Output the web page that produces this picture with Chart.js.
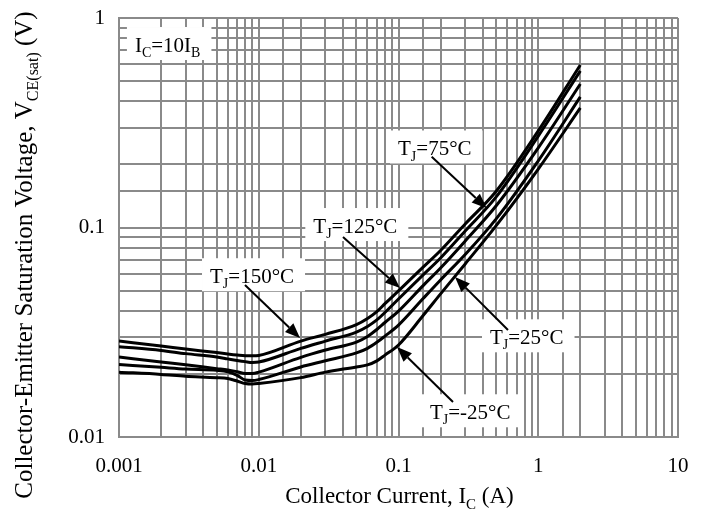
<!DOCTYPE html>
<html>
<head>
<meta charset="utf-8">
<script src="https://cdn.jsdelivr.net/npm/chart.js@4.4.0/dist/chart.umd.min.js"></script>
<style>
html, body { margin: 0; padding: 0; background: #fff; }
#wrap { width: 704px; height: 511px; }
</style>
</head>
<body>
<div id="wrap"><canvas id="vceChart" width="704" height="511"></canvas></div>
<script>
// Collector current sample points (A), shared by all curves
const currentA = [0.001, 0.002, 0.003, 0.005, 0.006, 0.007, 0.008, 0.009, 0.01, 0.02, 0.03, 0.05, 0.06, 0.07, 0.08, 0.1, 0.15, 0.2, 0.3, 0.5, 1, 2];

// VCE(sat) in volts
const vce150 = [0.0287, 0.0272, 0.0263, 0.0253, 0.0249, 0.0246, 0.0244, 0.0244, 0.0245, 0.0287, 0.0309, 0.0344, 0.0368, 0.0397, 0.0433, 0.0498, 0.0647, 0.0777, 0.104, 0.149, 0.289, 0.597];
const vce125 = [0.0270, 0.0259, 0.0250, 0.0241, 0.0236, 0.0232, 0.0229, 0.0227, 0.0228, 0.0265, 0.0287, 0.0317, 0.0337, 0.0362, 0.0393, 0.0456, 0.0594, 0.0715, 0.0962, 0.140, 0.273, 0.559];
const vce75  = [0.0241, 0.0228, 0.0221, 0.0212, 0.0209, 0.0205, 0.0201, 0.0201, 0.0204, 0.0240, 0.0260, 0.0284, 0.0302, 0.0326, 0.0352, 0.0399, 0.0528, 0.0641, 0.0862, 0.127, 0.240, 0.484];
const vce25  = [0.0222, 0.0215, 0.0211, 0.0208, 0.0205, 0.0197, 0.0187, 0.0186, 0.0188, 0.0216, 0.0231, 0.0252, 0.0265, 0.0283, 0.0303, 0.0342, 0.0458, 0.0562, 0.0743, 0.110, 0.208, 0.420];
const vceM25 = [0.0204, 0.0199, 0.0195, 0.0192, 0.0190, 0.0185, 0.0180, 0.0179, 0.0180, 0.0192, 0.0204, 0.0216, 0.0221, 0.0231, 0.0246, 0.0275, 0.0380, 0.0482, 0.0670, 0.102, 0.190, 0.372];

const seriesNames = ['TJ=150°C', 'TJ=125°C', 'TJ=75°C', 'TJ=25°C', 'TJ=-25°C'];
const seriesValues = [vce150, vce125, vce75, vce25, vceM25];

// axis tick labels (decades only)
const xTickLabels = ['0.001', '0.01', '0.1', '1', '10'];
const yTickLabels = ['0.01', '0.1', '1'];

// annotations: text parts [text, isSubscript], anchor = left/baseline in data units
const noteText = [
    [['I'], ['C', 1], ['=10I'], ['B', 1]],
    [['T'], ['J', 1], ['=75°C']],
    [['T'], ['J', 1], ['=125°C']],
    [['T'], ['J', 1], ['=150°C']],
    [['T'], ['J', 1], ['=25°C']],
    [['T'], ['J', 1], ['=-25°C']]
];
const noteAt = [[0.0013, 0.688], [0.0992, 0.2207], [0.02457, 0.0941], [0.00448, 0.0542], [0.4516, 0.0277], [0.168, 0.01215]];
const arrowFrom = [null, [0.1728, 0.2177], [0.04007, 0.0901], [0.00797, 0.0531], [0.6074, 0.0324], [0.2455, 0.01469]];
const arrowTo   = [null, [0.4277, 0.1235], [0.1025, 0.0514], [0.01973, 0.0297], [0.2537, 0.0580], [0.0976, 0.0269]];

const FONT = 'Liberation Serif';
const GRID = '#8a8a8a';

function fontFor(p, size) {
    return (p[1] ? Math.round(size * 0.65) : size) + 'px "' + FONT + '"';
}

function measureRich(ctx, parts, size) {
    let total = 0;
    parts.forEach(p => {
        ctx.font = fontFor(p, size);
        total += ctx.measureText(p[0]).width;
    });
    return total;
}

function drawRich(ctx, parts, x, y, size, center) {
    const total = measureRich(ctx, parts, size);
    let cx = center ? x - total / 2 : x;
    parts.forEach(p => {
        ctx.font = fontFor(p, size);
        ctx.fillText(p[0], cx, p[1] ? y + size * 0.24 : y);
        cx += ctx.measureText(p[0]).width;
    });
}

function drawArrow(ctx, x1, y1, x2, y2) {
    const ang = Math.atan2(y2 - y1, x2 - x1);
    const len = 15, half = 6;
    const bx = x2 - len * Math.cos(ang), by = y2 - len * Math.sin(ang);
    ctx.beginPath();
    ctx.moveTo(x1, y1);
    ctx.lineTo(bx, by);
    ctx.lineWidth = 2;
    ctx.strokeStyle = '#000';
    ctx.stroke();
    ctx.beginPath();
    ctx.moveTo(x2, y2);
    ctx.lineTo(bx + half * Math.sin(ang), by - half * Math.cos(ang));
    ctx.lineTo(bx - half * Math.sin(ang), by + half * Math.cos(ang));
    ctx.closePath();
    ctx.fillStyle = '#000';
    ctx.fill();
}

const notesPlugin = {
    id: 'notes',
    beforeDatasetsDraw(chart) {
        const ctx = chart.ctx, xs = chart.scales.x, ys = chart.scales.y;
        ctx.save();
        noteText.forEach((parts, i) => {
            const x = xs.getPixelForValue(noteAt[i][0]);
            const y = ys.getPixelForValue(noteAt[i][1]);
            const w = measureRich(ctx, parts, 21);
            ctx.fillStyle = '#fff';
            ctx.fillRect(x - 8, y - 25, w + 19, 33);
        });
        ctx.restore();
    },
    afterDatasetsDraw(chart) {
        const ctx = chart.ctx, xs = chart.scales.x, ys = chart.scales.y;
        ctx.save();
        ctx.textBaseline = 'alphabetic';
        noteText.forEach((parts, i) => {
            const x = xs.getPixelForValue(noteAt[i][0]);
            const y = ys.getPixelForValue(noteAt[i][1]);
            ctx.fillStyle = '#000';
            drawRich(ctx, parts, x, y, 21, false);
            if (arrowFrom[i]) {
                drawArrow(ctx,
                    xs.getPixelForValue(arrowFrom[i][0]), ys.getPixelForValue(arrowFrom[i][1]),
                    xs.getPixelForValue(arrowTo[i][0]), ys.getPixelForValue(arrowTo[i][1]));
            }
        });
        ctx.restore();
    },
    afterDraw(chart) {
        const ctx = chart.ctx, area = chart.chartArea;
        ctx.save();
        ctx.fillStyle = '#000';
        ctx.textBaseline = 'alphabetic';
        // x axis title
        drawRich(ctx, [['Collector Current, I'], ['C', 1], [' (A)']],
            (area.left + area.right) / 2 + 1, 503, 23, true);
        // y axis title
        ctx.translate(32, 255);
        ctx.rotate(-Math.PI / 2);
        drawRich(ctx, [['Collector-Emitter Saturation Voltage, V'], ['CE(sat)', 1], [' (V)']],
            0, 0, 25, true);
        ctx.restore();
    }
};

function decadeLabel(labels, offset) {
    return function(value) {
        const e = Math.log10(value);
        if (Math.abs(e - Math.round(e)) > 1e-6) return '';
        return labels[Math.round(e) + offset] || '';
    };
}

const datasets = seriesValues.map((vals, i) => ({
    label: seriesNames[i],
    data: currentA.map((a, j) => ({ x: a, y: vals[j] })),
    borderColor: '#000',
    borderWidth: 3,
    pointRadius: 0,
    fill: false,
    cubicInterpolationMode: 'monotone'
}));

new Chart(document.getElementById('vceChart'), {
    type: 'line',
    data: { datasets: datasets },
    options: {
        responsive: false,
        animation: false,
        layout: { padding: { top: 18, right: 26, left: 0, bottom: 0 } },
        plugins: { legend: { display: false }, tooltip: { enabled: false } },
        scales: {
            x: {
                type: 'logarithmic',
                min: Number(xTickLabels[0]),
                max: Number(xTickLabels[xTickLabels.length - 1]),
                afterFit: function(scale) {
                    scale.height = 74;
                    scale.paddingLeft = 0;
                    scale.paddingRight = 0;
                },
                grid: { color: GRID, lineWidth: 2, drawTicks: false },
                border: { color: GRID, width: 2 },
                ticks: {
                    autoSkip: false, maxRotation: 0, padding: 17, color: '#000',
                    font: { family: FONT, size: 21 },
                    callback: decadeLabel(xTickLabels, 3)
                }
            },
            y: {
                type: 'logarithmic',
                min: Number(yTickLabels[0]),
                max: Number(yTickLabels[yTickLabels.length - 1]),
                afterFit: function(scale) {
                    scale.width = 119;
                    scale.paddingTop = 0;
                    scale.paddingBottom = 0;
                },
                grid: { color: GRID, lineWidth: 2, drawTicks: false },
                border: { color: GRID, width: 2 },
                ticks: {
                    autoSkip: false, padding: 14, color: '#000',
                    font: { family: FONT, size: 21 },
                    callback: decadeLabel(yTickLabels, 2)
                }
            }
        }
    },
    plugins: [notesPlugin]
});
</script>
</body>
</html>
